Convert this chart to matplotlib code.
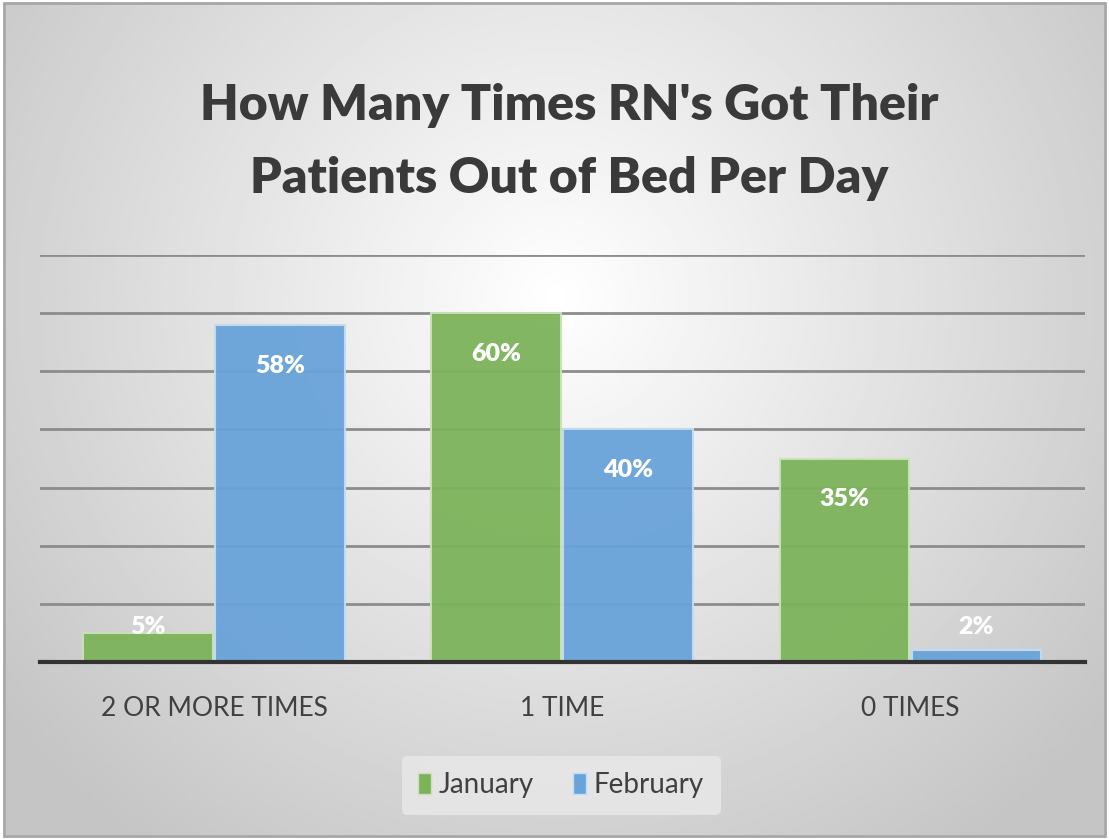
import numpy as np
import matplotlib.pyplot as plt
from matplotlib.patches import Patch

categories = ["2 OR MORE TIMES", "1 TIME", "0 TIMES"]
january = [5, 60, 35]
february = [58, 40, 2]
series_names = ["January", "February"]

green = "#7cb35a"
blue = "#69a3d9"
font = ["Lato", "DejaVu Sans"]

fig = plt.figure(figsize=(11.09, 8.39), dpi=100)

# radial grey gradient behind everything
bg = fig.add_axes([0.005, 0.005, 0.99, 0.99])
yy, xx = np.mgrid[0:400, 0:530]
r = np.sqrt(((xx - 265) / 340.0) ** 2 + ((yy - 140) / 330.0) ** 2)
shade = np.clip(1.0 - 0.23 * r, 0.77, 1.0)
bg.imshow(shade, cmap="gray", vmin=0, vmax=1, aspect="auto", extent=[0, 1, 0, 1])
bg.set_axis_off()
fig.patches.append(plt.Rectangle((0.004, 0.004), 0.992, 0.992, transform=fig.transFigure,
                                 fill=False, edgecolor="#a6a6a6", linewidth=2))

ax = fig.add_axes([0.036, 0.211, 0.942, 0.485])
ax.patch.set_alpha(0)
x = np.arange(len(categories))
w = 0.373
b1 = ax.bar(x - w / 2 - 0.003, january, w, color=green, edgecolor="#c9e3b6", linewidth=1.5, alpha=0.95, zorder=2)
b2 = ax.bar(x + w / 2 + 0.003, february, w, color=blue, edgecolor="#c3dcf2", linewidth=1.5, alpha=0.95, zorder=2)

for bars in (b1, b2):
    for rect in bars:
        v = rect.get_height()
        ax.text(rect.get_x() + rect.get_width() / 2, max(v - 7, 6), f"{v:.0f}%",
                ha="center", va="center", color="white", fontsize=18,
                fontweight="heavy", family=font, zorder=3)

ax.set_xlim(-0.5, 2.5)
ax.set_ylim(0, 70)
ax.set_yticks(np.arange(10, 71, 10))
ax.yaxis.grid(True, color="#8c8c8c", linewidth=2)
ax.set_axisbelow(True)
ax.tick_params(left=False, labelleft=False, bottom=False)
for s in ["top", "right", "left"]:
    ax.spines[s].set_visible(False)
ax.spines["bottom"].set_color("#333333")
ax.spines["bottom"].set_linewidth(3)
ax.spines["bottom"].set_zorder(4)
ax.set_xticks(x)
ax.set_xticklabels(categories, fontsize=19, color="#404040", family=font)
ax.tick_params(axis="x", pad=21)

fig.text(0.513, 0.831, "How Many Times RN's Got Their\nPatients Out of Bed Per Day",
         ha="center", va="center", fontsize=36, fontweight="heavy", color="#3a3a3a",
         family=font, linespacing=1.75)

handles = [Patch(facecolor=green, edgecolor="#c9e3b6"), Patch(facecolor=blue, edgecolor="#c3dcf2")]
leg = fig.legend(handles, series_names, loc="center", bbox_to_anchor=(0.506, 0.064),
                 ncol=2, frameon=True, handlelength=0.45, handleheight=0.8,
                 handletextpad=0.3, columnspacing=1.4, borderpad=0.6,
                 prop={"family": font, "size": 20})
leg.get_frame().set_facecolor("#e9e9e9")
leg.get_frame().set_edgecolor("none")
leg.get_frame().set_alpha(0.8)
for t in leg.get_texts():
    t.set_color("#404040")

fig.savefig("out.png", dpi=100)
